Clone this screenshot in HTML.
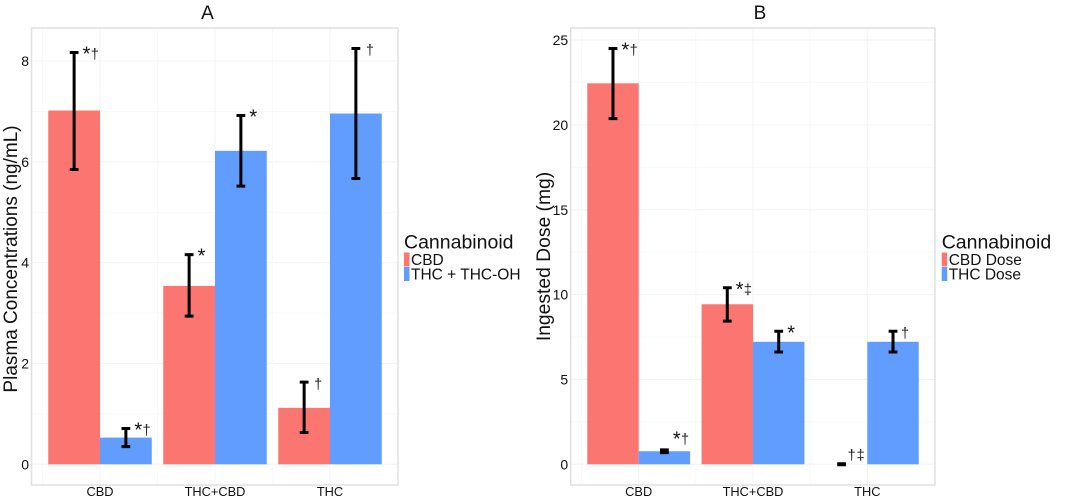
<!DOCTYPE html>
<html>
<head>
<meta charset="utf-8">
<title>Cannabinoid charts</title>
<style>
html,body{margin:0;padding:0;background:#fff;width:1065px;height:501px;overflow:hidden}
svg{display:block}
text{font-family:"Liberation Sans",sans-serif;fill:#111}
</style>
</head>
<body>
<svg id="chart" width="1065" height="501" viewBox="0 0 1065 501" xmlns="http://www.w3.org/2000/svg"></svg>
<script>
const categories = ["CBD", "THC+CBD", "THC"];

const aTicks = [0, 2, 4, 6, 8];
const aRedValues = [7.02, 3.54, 1.12];
const aRedLow = [5.85, 2.94, 0.63];
const aRedHigh = [8.17, 4.16, 1.63];
const aBlueValues = [0.53, 6.22, 6.96];
const aBlueLow = [0.35, 5.52, 5.67];
const aBlueHigh = [0.71, 6.92, 8.25];
const aRedMarks = ["*†", "*", "†"];
const aBlueMarks = ["*†", "*", "†"];
const aRedMarkLevels = [8.17, 4.16, 1.63];
const aBlueMarkLevels = [0.71, 6.92, 8.25];
const aLegend = ["CBD", "THC + THC-OH"];

const bTicks = [0, 5, 10, 15, 20, 25];
const bRedValues = [22.45, 9.43, 0];
const bRedLow = [20.37, 8.44, -0.03];
const bRedHigh = [24.5, 10.4, 0.03];
const bBlueValues = [0.77, 7.22, 7.22];
const bBlueLow = [0.69, 6.62, 6.62];
const bBlueHigh = [0.85, 7.84, 7.84];
const bRedMarks = ["*†", "*‡", "†‡"];
const bBlueMarks = ["*†", "*", "†"];
const bRedMarkLevels = [24.5, 10.4, 0.65];
const bBlueMarkLevels = [1.59, 7.84, 7.84];
const bLegend = ["CBD Dose", "THC Dose"];

const svg = document.getElementById("chart");
const NS = "http://www.w3.org/2000/svg";
const RED = "#FB7671";
const BLUE = "#619CFF";

function make(tag, attrs, text) {
  const el = document.createElementNS(NS, tag);
  for (const k in attrs) el.setAttribute(k, attrs[k]);
  if (text !== undefined) el.textContent = text;
  svg.appendChild(el);
  return el;
}

function drawPanel(p) {
  const x = i => p.x0 + p.xStep * i;
  const y = v => p.y0 - p.yUnit * v;
  const barW = p.xStep * 0.45;

  const bg = make("rect", {x: p.left, y: p.top, width: p.right - p.left, height: p.bottom - p.top, fill: "#fff"});
  
  

  const step = p.ticks[1] - p.ticks[0];
  for (let v = -step; v <= p.ticks[p.ticks.length - 1] + step; v += step / 2) {
    if (y(v) <= p.top || y(v) >= p.bottom) continue;
    const major = (v / step) % 1 === 0;
    const h = make("line", {x1: p.left, x2: p.right, y1: y(v), y2: y(v), stroke: major ? "#f3f3f3" : "#f9f9f9", "stroke-width": 1});
    
    
  }
  for (let i = -0.5; i <= 2; i += 0.5) {
    const major = i % 1 === 0;
    const g = make("line", {x1: x(i), x2: x(i), y1: p.top, y2: p.bottom, stroke: major ? "#f3f3f3" : "#f9f9f9", "stroke-width": 1});
    
    
  }

  categories.forEach((c, i) => {
    const rh = Math.abs(y(0) - y(p.redValues[i]));
    const r = make("rect", {x: x(i) - barW, y: Math.min(y(0), y(p.redValues[i])), width: barW, height: rh, fill: RED});
    
    
    const bh = Math.abs(y(0) - y(p.blueValues[i]));
    const b = make("rect", {x: x(i), y: Math.min(y(0), y(p.blueValues[i])), width: barW, height: bh, fill: BLUE});
    
    
  });

  function errorBar(cx, lo, hi, name) {
    const d = "M" + cx + " " + y(lo) + "V" + y(hi) +
      "M" + (cx - 4.4) + " " + y(lo) + "H" + (cx + 4.4) +
      "M" + (cx - 4.4) + " " + y(hi) + "H" + (cx + 4.4);
    const e = make("path", {d: d, stroke: "#000", "stroke-width": 3, fill: "none"});
    
    
  }

  function mark(cx, level, str, shift, name) {
    const t = make("text", {x: cx + 8.5 + shift, y: y(level) + 8});
    
    
    let prev = "";
    Array.from(str).forEach((ch, k) => {
      const star = ch === "*";
      const s = document.createElementNS(NS, "tspan");
      s.setAttribute("font-size", star ? 20 : 14.5);
      if (!star) s.setAttribute("fill", "#222");
      if (!star && k === 0) {
        s.setAttribute("dx", 1.5);
        s.setAttribute("dy", -1.3);
      }
      if (!star && prev === "*") {
        s.setAttribute("dx", 0.3);
        s.setAttribute("dy", -1.3);
      }
      if (!star && k > 0 && prev !== "*") s.setAttribute("dx", 1);
      s.textContent = ch;
      t.appendChild(s);
      prev = ch;
    });
  }

  categories.forEach((c, i) => {
    const rx = x(i) - barW / 2;
    const bx = x(i) + barW / 2;
    errorBar(rx, p.redLow[i], p.redHigh[i], p.id + "-error-bar-red-" + c);
    errorBar(bx, p.blueLow[i], p.blueHigh[i], p.id + "-error-bar-blue-" + c);
    mark(rx, p.redMarkLevels[i], p.redMarks[i], p.redShift[i], p.id + "-significance-red-" + c);
    mark(bx, p.blueMarkLevels[i], p.blueMarks[i], p.blueShift[i], p.id + "-significance-blue-" + c);
  });

  const frame = make("rect", {x: p.left, y: p.top, width: p.right - p.left, height: p.bottom - p.top, fill: "none", stroke: "#e0e0e0", "stroke-width": 1.5});
  
  

  p.ticks.forEach(v => {
    const t = make("text", {x: p.left - 2.5, y: y(v) + 5, "text-anchor": "end", "font-size": 14, fill: "#222"}, String(v));
    
    
  });
  categories.forEach((c, i) => {
    const t = make("text", {x: x(i), y: 496, "text-anchor": "middle", "font-size": 12.8, fill: "#222"}, c);
    
    
  });

  const title = make("text", {x: p.titleX, y: 19, "text-anchor": "middle", "font-size": 19}, p.title);
  
  

  const yt = make("text", {x: 0, y: 0, "text-anchor": "middle", "font-size": p.yTitleSize, transform: "translate(" + p.yTitleX + "," + p.yTitleY + ") rotate(-90)"}, p.yTitle);
  
  

  const lt = make("text", {x: p.legendX, y: 248.5, "font-size": 19.5}, "Cannabinoid");
  
  
  p.legend.forEach((label, k) => {
    const sw = make("rect", {x: p.legendX, y: 252.5 + k * 14.5, width: 5.5, height: 14, fill: k === 0 ? RED : BLUE});
    
    
    const lb = make("text", {x: p.legendX + 7, y: 264.8 + k * 14.5, "font-size": 15.5, fill: "#222"}, label);
    
    
  });
}

drawPanel({
  id: "panel-a", title: "A", titleX: 207.5, yTitle: "Plasma Concentrations (ng/mL)", yTitleSize: 19,
  left: 31.5, right: 398, top: 28, bottom: 485,
  x0: 100, xStep: 115, y0: 464.3, yUnit: 50.4,
  ticks: aTicks, redValues: aRedValues, redLow: aRedLow, redHigh: aRedHigh,
  blueValues: aBlueValues, blueLow: aBlueLow, blueHigh: aBlueHigh,
  redMarks: aRedMarks, blueMarks: aBlueMarks,
  redMarkLevels: aRedMarkLevels, blueMarkLevels: aBlueMarkLevels,
  redShift: [0, 0, 0], blueShift: [0, 0, 0],
  legend: aLegend, legendX: 404, yTitleX: 17, yTitleY: 259
});

drawPanel({
  id: "panel-b", title: "B", titleX: 760, yTitle: "Ingested Dose (mg)", yTitleSize: 19.3,
  left: 570.7, right: 935, top: 28, bottom: 485,
  x0: 638.7, xStep: 114.3, y0: 464.3, yUnit: 16.97,
  ticks: bTicks, redValues: bRedValues, redLow: bRedLow, redHigh: bRedHigh,
  blueValues: bBlueValues, blueLow: bBlueLow, blueHigh: bBlueHigh,
  redMarks: bRedMarks, blueMarks: bBlueMarks,
  redMarkLevels: bRedMarkLevels, blueMarkLevels: bBlueMarkLevels,
  redShift: [0, 0, -4], blueShift: [0, 0, -2],
  legend: bLegend, legendX: 941.7, yTitleX: 550, yTitleY: 256.5
});
</script>
</body>
</html>
